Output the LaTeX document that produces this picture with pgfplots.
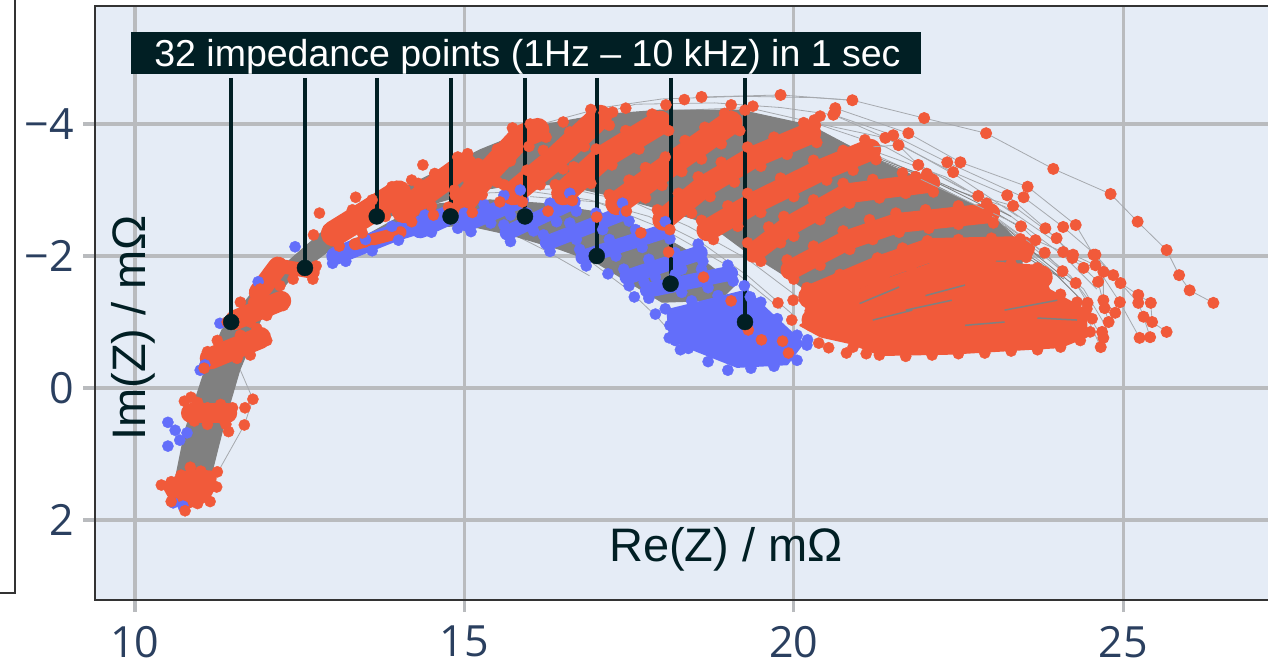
\documentclass[border=0pt]{standalone}
\usepackage{pgfplots}
\usepackage{fontspec}
\pgfplotsset{compat=1.18}
\setmainfont{Liberation Sans}
\newfontfamily\tickfont{Open Sans}
\definecolor{bgc}{HTML}{E5ECF6}
\definecolor{gridc}{HTML}{B9BBBE}
\definecolor{ob}{HTML}{F15A3A}
\definecolor{bb}{HTML}{636EFA}
\definecolor{gb}{HTML}{808080}
\definecolor{hairc}{HTML}{A6A9AE}
\definecolor{darkc}{HTML}{011F24}
\definecolor{tickc}{HTML}{2A3F5F}
\definecolor{framec}{HTML}{333333}
\pgfplotsset{
 hair/.style={draw=hairc,line width=0.8pt,mark=none},
 chain/.style={draw=hairc,line width=0.8pt,mark=*,mark size=5.6pt,mark options={draw=ob,fill=ob}},
 oband/.style={draw=ob,line width=#1,line cap=round,line join=round,mark=none},
 bband/.style={draw=bb,line width=#1,line cap=round,line join=round,mark=none},
 odots/.style={only marks,mark=*,mark size=5.6pt,mark options={draw=ob,fill=ob}},
 bdots/.style={only marks,mark=*,mark size=5.6pt,mark options={draw=bb,fill=bb}},
}
\begin{document}
\begin{tikzpicture}[x=1pt,y=1pt]
\useasboundingbox (0,0) rectangle (1268,668);
\draw[framec,line width=2pt] (-2,75) -- (14.5,75) -- (14.5,670);
\begin{axis}[
 at={(95pt,68pt)},anchor=south west,scale only axis,
 width=1177pt,height=594pt,
 xmin=9.393,xmax=27.26,ymin=-5.788,ymax=3.212,y dir=reverse,
 axis background/.style={fill=bgc},
 axis line style={draw=framec,line width=2.4pt},
 grid=major,grid style={draw=gridc,line width=3.2pt},
 xtick={10,15,20,25},xticklabels={10,15,20,25},
 ytick={-4,-2,0,2},yticklabels={−4,−2,0,2},
 xtick pos=bottom,ytick pos=left,tick align=outside,
 major tick length=12pt,
 tick style={draw=gridc,line width=3.2pt},
 tick label style={font=\tickfont\fontsize{43}{43}\selectfont,text=tickc,inner sep=0pt},
 xticklabel style={yshift=-14pt},
 yticklabel style={xshift=-9pt},
 clip=true,
]
% hair lines
\addplot[hair] coordinates {(20.25,-3.86)(21.2,-3.55)(22.3,-3.05)(23.2,-2.75)(24.0,-2.2)};
\addplot[hair] coordinates {(21.16,-3.61)(22.3,-3.2)(23.3,-2.6)(24.1,-2.0)(24.6,-1.5)};
\addplot[hair] coordinates {(22.07,-3.11)(23.0,-2.6)(23.8,-2.0)(24.4,-1.5)(24.7,-1.0)};
\addplot[hair] coordinates {(22.98,-2.65)(23.6,-2.2)(24.2,-1.7)(24.5,-1.3)};
\addplot[hair] coordinates {(23.48,-2.12)(23.9,-1.8)(24.3,-1.4)(24.6,-0.9)};
\addplot[hair] coordinates {(20.6,-4.14)(21.6,-3.7)(22.5,-3.2)(23.4,-2.6)};
\addplot[hair] coordinates {(20.3,-4.02)(21.4,-3.65)(22.6,-3.0)};
\addplot[hair] coordinates {(16.1,-3.98)(17.1,-4.25)(18.0,-4.38)(19.2,-4.42)(20.3,-4.4)(20.89,-4.36)};
\addplot[hair] coordinates {(16.5,-4.0)(17.6,-4.3)(18.8,-4.32)(19.8,-4.25)(20.6,-4.14)};
\addplot[hair] coordinates {(17.0,-4.12)(18.1,-4.2)(19.3,-4.25)(20.3,-4.02)};
\addplot[hair] coordinates {(15.2,-2.95)(16.0,-2.98)(16.9,-2.85)(17.8,-2.6)(18.6,-2.2)(19.3,-1.7)(20.0,-1.1)};
\addplot[hair] coordinates {(15.6,-3.0)(16.6,-3.02)(17.6,-2.8)(18.4,-2.45)(19.3,-1.95)(20.1,-1.35)};
\addplot[hair] coordinates {(16.0,-2.9)(17.0,-2.82)(18.0,-2.42)(19.0,-1.85)(19.8,-1.2)};
\addplot[hair] coordinates {(16.8,-2.0)(17.5,-1.48)(17.95,-1.05)(18.3,-0.65)};
\addplot[hair] coordinates {(15.4,-2.5)(16.2,-2.1)(16.9,-1.7)};
\addplot[hair] coordinates {(11.6,-0.27)(11.79,0.17)(11.66,0.56)(11.3,1.2)};
\addplot[hair,draw=gb] coordinates {(21.1,-3.55)(21.9,-3.25)(22.7,-2.9)(23.3,-2.6)};
\addplot[hair,draw=gb] coordinates {(21.3,-3.45)(22.1,-3.15)(22.9,-2.75)(23.5,-2.4)};
\addplot[hair,draw=gb] coordinates {(21.9,-3.05)(22.6,-2.75)(23.2,-2.35)(23.8,-1.95)};
\addplot[hair,draw=gb] coordinates {(22.2,-2.95)(22.9,-2.5)(23.5,-2.05)(24.1,-1.65)};
\addplot[hair,draw=gb] coordinates {(23.2,-2.45)(23.7,-2.0)(24.2,-1.6)};
\addplot[hair,draw=gb] coordinates {(23.5,-2.0)(24.0,-1.7)(24.4,-1.3)};
% gray bodies
\addplot[fill=gb,draw=gb,line width=1pt,mark=none] coordinates {(10.61,1.39)(10.76,0.64)(11.06,-0.27)(11.32,-0.88)(11.75,-1.41)(12.35,-1.94)(12.96,-2.47)(13.72,-2.85)(14.48,-3.23)(15.24,-3.61)(16.15,-3.98)(17.06,-4.14)(17.97,-4.21)(19.19,-4.21)(20.25,-3.98)(21.16,-3.50)(22.07,-3.11)(22.98,-2.65)(23.48,-2.14)(23.44,-1.33)(20.41,-1.33)(19.90,-1.68)(19.23,-2.10)(18.69,-2.50)(18.02,-2.70)(17.32,-2.89)(16.50,-3.08)(15.74,-3.08)(15.16,-2.98)(14.33,-2.73)(13.57,-2.52)(12.96,-2.09)(12.35,-1.64)(11.97,-1.18)(11.59,-0.27)(11.37,0.48)(11.14,1.39)} --cycle;
\addplot[fill=gb,draw=gb,line width=1pt,mark=none] coordinates {(14.33,-2.77)(15.39,-2.85)(16.15,-2.80)(17.06,-2.66)(17.97,-2.32)(18.58,-1.97)(19.11,-1.56)(18.88,-1.33)(18.0,-1.3)(17.5,-1.6)(17.0,-1.9)(16.45,-2.1)(15.70,-2.32)(15.01,-2.47)(14.03,-2.39)(13.11,-2.09)} --cycle;
% blue bands
\addplot[bband=18pt] coordinates {(13.04,-2.00)(13.95,-2.36)(14.48,-2.52)};
\addplot[bband=20pt] coordinates {(14.33,-2.42)(14.83,-2.65)};
\addplot[bband=17pt] coordinates {(15.04,-2.50)(15.85,-2.85)};
\addplot[bband=15pt] coordinates {(15.65,-2.35)(16.65,-2.82)};
\addplot[bband=15pt] coordinates {(16.26,-2.20)(17.41,-2.65)};
\addplot[bband=15pt] coordinates {(16.80,-1.98)(18.08,-2.39)};
\addplot[bband=15pt] coordinates {(17.47,-1.68)(18.58,-2.05)};
\addplot[bband=15pt] coordinates {(17.78,-1.48)(19.04,-1.74)};
\addplot[fill=bb,draw=bb,line width=2pt,line join=round,mark=none] coordinates {(18.08,-1.18)(19.29,-1.48)(19.60,-1.18)(20.14,-0.68)(19.90,-0.36)(19.14,-0.32)(18.38,-0.62)(18.12,-0.77)} --cycle;
\addplot[bdots] coordinates {(15.0,-2.65)(15.3,-2.78)(15.6,-2.92)(15.85,-3.0)(15.1,-2.37)(15.4,-2.5)(15.7,-2.62)
(15.6,-2.47)(15.95,-2.65)(16.3,-2.8)(16.6,-2.95)(15.7,-2.22)(16.05,-2.38)(16.4,-2.52)(16.7,-2.68)
(16.2,-2.32)(16.6,-2.5)(17.0,-2.65)(17.4,-2.8)(16.3,-2.07)(16.7,-2.25)(17.1,-2.4)(17.5,-2.53)
(16.75,-2.1)(17.2,-2.25)(17.6,-2.4)(18.05,-2.52)(16.85,-1.85)(17.3,-2.0)(17.7,-2.13)(18.12,-2.26)
(17.42,-1.8)(17.8,-1.95)(18.2,-2.05)(18.55,-2.18)(17.5,-1.55)(17.9,-1.68)(18.3,-1.8)(18.62,-1.92)
(17.73,-1.6)(18.2,-1.72)(18.6,-1.8)(19.0,-1.86)(17.8,-1.36)(18.3,-1.45)(18.7,-1.52)(19.08,-1.62)
(18.05,-1.2)(18.45,-1.32)(18.85,-1.4)(19.25,-1.55)(19.5,-1.3)(19.75,-1.05)(20.05,-0.8)(20.2,-0.65)(20.05,-0.42)(19.7,-0.33)(19.35,-0.3)(19.0,-0.27)(18.7,-0.4)(18.4,-0.6)(18.2,-0.72)(18.12,-0.95)
(13.1,-2.12)(13.5,-2.25)(13.9,-2.45)(14.4,-2.62)(13.2,-1.92)(13.6,-2.08)(14.0,-2.24)(14.5,-2.36)(14.9,-2.42)};
\addplot[bdots] coordinates {(17.43,-2.65)(17.18,-1.73)(17.58,-1.38)(17.90,-1.12)(18.11,-0.76)(18.28,-0.58)(20.21,-0.73)(19.34,-1.38)(18.55,-2.05)(19.0,-1.73)(16.86,-2.02)(10.50,0.52)(10.61,0.64)(10.79,0.68)(10.50,0.88)(10.68,0.79)(10.99,-0.27)(11.06,-0.35)(10.58,1.74)(10.73,1.79)(11.29,-0.98)(11.87,-1.61)(12.43,-2.14)(13.0,-1.89)};
% orange bands, left arc
\addplot[fill=ob,draw=ob,line width=6pt,line join=round,mark=none] coordinates {(10.45,1.47)(10.84,1.27)(11.20,1.30)(11.18,1.50)(11.08,1.68)(10.76,1.80)(10.58,1.70)} --cycle;
\addplot[odots] coordinates {(10.40,1.47)(10.55,1.42)(10.7,1.32)(10.84,1.2)(11.0,1.26)(11.25,1.27)(11.24,1.5)(11.14,1.72)(10.95,1.62)(10.76,1.86)(10.55,1.72)(10.95,1.75)
(10.75,0.2)(10.95,0.22)(10.85,0.14)(11.1,0.3)(11.3,0.25)(11.48,0.3)(10.9,0.5)(11.1,0.55)(11.35,0.48)(11.42,0.66)(11.38,0.55)
(11.05,-0.3)(11.1,-0.55)(11.25,-0.72)(11.3,-0.45)(11.55,-0.45)(11.75,-0.5)(12.0,-0.72)(11.6,-0.8)(11.85,-0.9)
(11.4,-1.0)(11.6,-1.3)(11.75,-1.0)(12.0,-1.1)(12.25,-1.25)(11.9,-1.5)(11.8,-1.3)(12.1,-1.7)(12.2,-1.55)(12.4,-1.65)(12.7,-1.65)(12.75,-1.85)};
\addplot[oband=20pt] coordinates {(10.85,0.38)(11.40,0.38)};
\addplot[oband=22pt] coordinates {(11.15,-0.45)(11.90,-0.76)};
\addplot[oband=20pt] coordinates {(11.52,-1.03)(12.22,-1.32)};
\addplot[oband=20pt] coordinates {(11.88,-1.45)(12.17,-1.84)};
\addplot[oband=14pt] coordinates {(12.20,-1.85)(12.70,-1.76)};
\addplot[oband=26pt] coordinates {(13.02,-2.34)(13.57,-2.68)(14.0,-2.95)};
\addplot[oband=12pt] coordinates {(13.34,-2.18)(14.03,-2.36)};
\addplot[oband=24pt] coordinates {(14.08,-2.68)(14.48,-3.00)(15.01,-3.38)};
\addplot[odots] coordinates {(13.0,-2.45)(13.3,-2.7)(13.6,-2.85)(13.9,-3.05)(14.2,-3.15)(13.1,-2.15)(13.45,-2.35)(13.8,-2.6)(14.1,-2.8)
(14.0,-2.82)(14.3,-3.1)(14.55,-3.25)(14.9,-3.5)(15.05,-3.55)(14.2,-2.52)(14.5,-2.76)(14.85,-3.0)(15.15,-3.22)};
% orange bands, upper arc
\addplot[oband=24pt] coordinates {(14.98,-2.80)(15.35,-3.26)(15.85,-3.80)(16.11,-3.91)};
\addplot[oband=24pt] coordinates {(15.74,-2.95)(16.35,-3.45)(17.06,-4.11)};
\addplot[oband=24pt] coordinates {(16.50,-2.95)(17.11,-3.50)(17.97,-4.02)};
\addplot[oband=24pt] coordinates {(17.32,-2.80)(17.87,-3.20)(19.04,-4.02)};
\addplot[oband=22pt] coordinates {(18.02,-2.55)(18.63,-3.05)(19.39,-3.50)(20.25,-3.86)};
\addplot[oband=22pt] coordinates {(18.69,-2.39)(19.39,-2.80)(20.41,-3.30)(21.16,-3.61)};
\addplot[oband=20pt] coordinates {(19.39,-2.05)(19.90,-2.44)(20.81,-2.95)(22.07,-3.11)};
\addplot[oband=20pt] coordinates {(19.95,-1.79)(20.81,-2.24)(21.57,-2.50)(22.98,-2.65)};
\addplot[oband=24pt] coordinates {(20.25,-1.38)(21.32,-1.83)(22.07,-2.09)(23.48,-2.12)};
\addplot[oband=24pt] coordinates {(20.30,-1.03)(21.32,-1.44)(22.33,-1.79)(23.75,-1.68)};
\addplot[odots] coordinates {(14.86,-2.92)(15.07,-3.13)(15.21,-3.40)(15.5,-3.62)(15.73,-3.94)(16.0,-4.0)
(15.12,-2.66)(15.27,-2.93)(15.5,-3.12)(15.7,-3.44)(15.98,-3.66)(16.24,-3.8)
(15.6,-3.08)(15.95,-3.3)(16.2,-3.6)(16.6,-3.88)(16.92,-4.22)
(15.88,-2.82)(16.15,-3.08)(16.5,-3.32)(16.82,-3.66)(17.2,-3.98)
(16.38,-3.08)(16.66,-3.35)(17.0,-3.62)(17.45,-3.9)(17.85,-4.15)
(16.64,-2.84)(16.92,-3.1)(17.24,-3.38)(17.65,-3.62)(18.1,-3.9)
(17.2,-2.93)(17.5,-3.15)(17.75,-3.34)(18.05,-3.5)(18.35,-3.75)(18.65,-3.95)(18.95,-4.16)
(17.46,-2.68)(17.75,-2.88)(18.0,-3.07)(18.3,-3.28)(18.6,-3.47)(18.9,-3.7)(19.18,-3.9)
(17.93,-2.7)(18.25,-2.95)(18.55,-3.2)(18.9,-3.42)(19.3,-3.65)(19.7,-3.8)(20.15,-4.02)
(18.12,-2.4)(18.45,-2.65)(18.73,-2.9)(19.1,-3.12)(19.5,-3.36)(19.9,-3.54)(20.35,-3.72)
(18.6,-2.54)(19.0,-2.76)(19.3,-2.95)(19.8,-3.18)(20.3,-3.45)(20.75,-3.6)(21.08,-3.76)
(18.78,-2.25)(19.15,-2.45)(19.5,-2.66)(20.0,-2.9)(20.5,-3.15)(20.9,-3.3)(21.25,-3.46)
(19.3,-2.2)(19.62,-2.44)(19.85,-2.6)(20.3,-2.85)(20.75,-3.1)(21.2,-3.16)(21.65,-3.26)(22.02,-3.25)
(19.5,-1.92)(19.8,-2.2)(20.0,-2.3)(20.4,-2.55)(20.85,-2.8)(21.3,-2.88)(21.7,-2.95)(22.12,-2.97)
(19.9,-1.94)(20.3,-2.15)(20.75,-2.38)(21.15,-2.55)(21.55,-2.65)(22.0,-2.7)(22.5,-2.76)(22.93,-2.8)
(20.0,-1.65)(20.4,-1.86)(20.85,-2.1)(21.2,-2.25)(21.6,-2.36)(22.05,-2.42)(22.5,-2.48)(23.03,-2.5)
(20.2,-1.52)(20.7,-1.72)(21.27,-1.97)(21.65,-2.12)(22.03,-2.23)(22.5,-2.25)(23.0,-2.27)(23.44,-2.26)
(20.3,-1.24)(20.8,-1.44)(21.37,-1.69)(21.75,-1.84)(22.12,-1.95)(22.6,-1.96)(23.0,-1.97)(23.53,-1.98)
(20.25,-1.17)(20.8,-1.4)(21.27,-1.58)(21.8,-1.78)(22.28,-1.93)(22.8,-1.9)(23.3,-1.88)(23.7,-1.82)};
\addplot[fill=ob,draw=ob,line width=2pt,line join=round,mark=none] coordinates {(20.25,-1.03)(21.32,-1.44)(22.38,-1.64)(23.75,-1.56)(24.43,-1.18)(24.45,-0.78)(24.05,-0.62)(22.38,-0.52)(21.32,-0.5)(20.86,-0.68)(20.41,-0.78)(20.10,-0.95)} --cycle;
\addplot[odots] coordinates {(20.9,-0.62)(21.1,-0.52)(21.3,-0.5)(21.7,-0.48)(22.1,-0.5)(22.5,-0.52)(22.9,-0.53)(23.3,-0.56)(23.7,-0.58)(24.05,-0.62)(24.35,-0.72)(24.5,-0.85)(24.53,-1.05)(24.45,-1.2)(24.3,-1.3)(24.05,-1.42)(23.8,-1.5)};
% short gray traces inside the solid orange part
\addplot[draw=gb,line width=1.5pt,mark=none,unbounded coords=jump] coordinates {(21.0,-1.28)(21.6,-1.53)(nan,nan)(22.0,-1.40)(22.6,-1.56)(nan,nan)(21.7,-1.18)(22.4,-1.33)(nan,nan)(23.2,-1.18)(24.0,-1.33)(nan,nan)(23.7,-1.06)(24.3,-1.03)(nan,nan)(21.2,-1.03)(21.8,-1.18)(nan,nan)(22.6,-0.95)(23.2,-1.0)};
% outliers and the furthest spectra
\addplot[chain] coordinates {(18.60,-4.41)(19.80,-4.44)(20.89,-4.36)(21.98,-4.09)(22.92,-3.86)(23.94,-3.32)(24.81,-2.94)(25.22,-2.52)(25.66,-2.09)(25.85,-1.71)(26.01,-1.48)(26.37,-1.29)};
\addplot[chain] coordinates {(20.63,-4.24)(21.74,-3.86)(22.53,-3.42)(23.55,-3.05)(24.28,-2.47)(24.55,-2.02)(24.96,-1.59)(25.23,-1.41)(25.42,-1.29)(25.44,-1.00)(25.66,-0.85)};
\addplot[chain] coordinates {(20.60,-4.14)(21.51,-3.83)(22.33,-3.42)(23.49,-2.89)(24.09,-2.44)(24.58,-2.02)(24.85,-1.71)(25.23,-1.29)(25.31,-1.08)(25.41,-0.77)};
\addplot[chain] coordinates {(20.30,-4.02)(21.39,-3.79)(22.42,-3.27)(23.24,-2.92)(23.82,-2.42)(24.24,-2.02)(24.58,-1.86)(24.95,-1.30)(25.25,-0.76)};
\addplot[chain] coordinates {(21.12,-3.65)(21.59,-3.68)(21.89,-3.38)(22.80,-2.91)(23.33,-2.76)(23.99,-2.27)(24.23,-1.97)(24.70,-1.76)(24.70,-1.33)(24.88,-1.14)(24.68,-0.85)};
\addplot[chain] coordinates {(21.85,-3.20)(23.45,-2.45)(23.67,-2.24)(24.09,-2.06)(24.40,-1.82)(24.62,-1.61)(24.72,-1.21)(24.78,-1.00)(24.70,-0.76)};
\addplot[chain] coordinates {(22.94,-2.65)(23.81,-2.05)(24.08,-1.77)(24.28,-1.59)(24.46,-1.29)(24.43,-1.12)(24.66,-0.62)};
% single orange points
\addplot[odots] coordinates {(18.34,-4.37)(18.06,-4.29)(17.45,-4.24)(17.25,-4.18)(17.12,-4.17)(16.50,-4.03)(19.05,-4.29)(19.26,-4.21)(19.38,-4.27)(20.63,-4.18)(20.40,-4.12)(20.31,-4.06)(20.33,-3.98)(14.37,-3.38)(12.80,-2.65)(13.35,-2.89)(12.71,-2.32)
(19.99,-1.33)(19.97,-1.03)(20.38,-0.68)(20.53,-0.61)(20.80,-0.53)(19.76,-1.29)
(11.79,0.17)(11.67,0.30)(11.66,0.56)(14.53,-2.62)(14.76,-2.74)(15.54,-2.82)(16.27,-2.68)(17.01,-2.59)(17.68,-2.35)(18.10,-2.06)(18.63,-1.68)(19.05,-1.32)(19.31,-0.88)(19.51,-0.73)(19.83,-0.71)(19.92,-0.53)};
% annotation pins
\addplot[draw=darkc,line width=4pt,mark=none,unbounded coords=jump] coordinates {(11.46,-4.7)(11.46,-1.0)(nan,nan)(12.58,-4.7)(12.58,-1.82)(nan,nan)(13.67,-4.7)(13.67,-2.6)(nan,nan)(14.79,-4.7)(14.79,-2.6)(nan,nan)(15.92,-4.7)(15.92,-2.6)(nan,nan)(17.01,-4.7)(17.01,-2.0)(nan,nan)(18.13,-4.7)(18.13,-1.58)(nan,nan)(19.26,-4.7)(19.26,-1.0)};
\addplot[only marks,mark=*,mark size=8pt,mark options={draw=darkc,fill=darkc}] coordinates {(11.46,-1.0)(12.58,-1.82)(13.67,-2.6)(14.79,-2.6)(15.92,-2.6)(17.01,-2.0)(18.13,-1.58)(19.26,-1.0)};
\end{axis}
\fill[darkc] (131,594) rectangle (921,636);
\node[text=white,font=\fontsize{37.5}{37.5}\selectfont,anchor=center] at (527.5,611) {32 impedance points (1Hz – 10 kHz) in 1 sec};
\node[text=darkc,font=\fontsize{47}{47}\selectfont,anchor=center] at (726,119) {Re(Z) / mΩ};
\node[text=darkc,font=\fontsize{47}{47}\selectfont,anchor=center,rotate=90] at (133,340) {Im(Z) / mΩ};
\end{tikzpicture}
\end{document}
